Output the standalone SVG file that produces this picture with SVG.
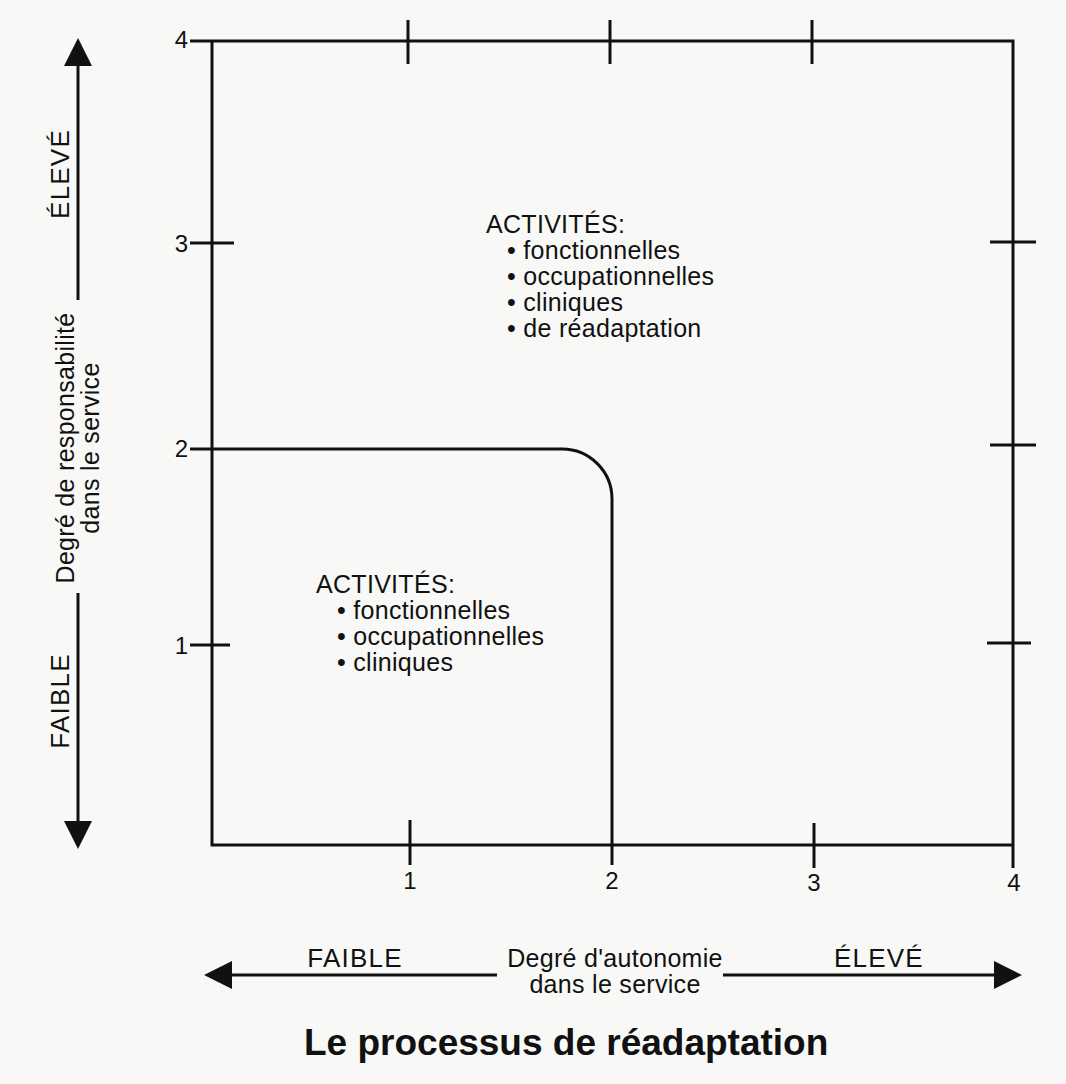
<svg xmlns="http://www.w3.org/2000/svg" width="1066" height="1084" viewBox="0 0 1066 1084">
  <style>
    .ln { stroke: #111; stroke-width: 3; fill: none; stroke-linecap: butt; }
    .t { font-family: "Liberation Sans", Arial, sans-serif; font-size: 25px; fill: #111; letter-spacing: 0.3px; }
    .num { font-family: "Liberation Sans", Arial, sans-serif; font-size: 24px; fill: #111; }
    .big { font-family: "Liberation Sans", Arial, sans-serif; font-size: 26px; fill: #111; letter-spacing: 1.2px; }
    .title { font-family: "Liberation Sans", Arial, sans-serif; font-size: 37px; font-weight: bold; fill: #111; }
  </style>
  <defs>
    <marker id="head" viewBox="0 0 28 28" markerUnits="userSpaceOnUse" markerWidth="28" markerHeight="28" refX="18" refY="14" orient="auto">
      <path d="M0,0 L28,14 L0,28 z" fill="#111"/>
    </marker>
  </defs>

  <rect width="1066" height="1084" fill="#f8f8f6"/>

  <!-- square chart frame with scale ticks -->
  <g id="frame">
    <path class="ln" d="M190,41 H1013 V868 M212,41 V845 H1013"/>
    <!-- top ticks -->
    <path class="ln" d="M408,20 V64 M610,20 V64 M812,20 V64"/>
    <!-- bottom ticks -->
    <path class="ln" d="M410,820 V865 M814,823 V868"/>
    <!-- left ticks -->
    <path class="ln" d="M190,243 H234 M190,645 H230"/>
    <!-- right ticks -->
    <path class="ln" d="M990,242 H1036 M990,445 H1036 M987,643 H1031"/>
  </g>

  <!-- scale numbers -->
  <g id="scale-left" class="num" text-anchor="end">
    <text x="188" y="48">4</text>
    <text x="188" y="252">3</text>
    <text x="188" y="457">2</text>
    <text x="188" y="654">1</text>
  </g>
  <g id="scale-bottom" class="num" text-anchor="middle">
    <text x="410" y="889">1</text>
    <text x="612" y="889">2</text>
    <text x="814" y="891">3</text>
    <text x="1014" y="891">4</text>
  </g>

  <!-- boundary between the two zones -->
  <g id="zone-boundary">
    <path class="ln" d="M190,449 H562 A50,50 0 0 1 612,499 V865"/>
  </g>

  <!-- upper zone activities -->
  <g id="zone-high" class="t">
    <text x="486" y="233">ACTIVITÉS:</text>
    <text x="507" y="259">• fonctionnelles</text>
    <text x="507" y="285">• occupationnelles</text>
    <text x="507" y="311">• cliniques</text>
    <text x="507" y="337">• de réadaptation</text>
  </g>

  <!-- lower zone activities -->
  <g id="zone-low" class="t">
    <text x="316" y="593">ACTIVITÉS:</text>
    <text x="337" y="619">• fonctionnelles</text>
    <text x="337" y="645">• occupationnelles</text>
    <text x="337" y="671">• cliniques</text>
  </g>

  <!-- vertical axis labels -->
  <g id="axis-y-labels">
    <text class="big" text-anchor="middle" transform="translate(69,174) rotate(-90)">ÉLEVÉ</text>
    <text class="big" text-anchor="middle" transform="translate(69,701) rotate(-90)">FAIBLE</text>
    <text class="t" text-anchor="middle" transform="translate(74,448) rotate(-90)">Degré de responsabilité</text>
    <text class="t" text-anchor="middle" transform="translate(99,448) rotate(-90)">dans le service</text>
  </g>

  <!-- horizontal axis labels -->
  <g id="axis-x-labels">
    <text class="big" x="355" y="967" text-anchor="middle">FAIBLE</text>
    <text class="big" x="879" y="967" text-anchor="middle">ÉLEVÉ</text>
    <text class="t" x="615" y="967" text-anchor="middle">Degré d'autonomie</text>
    <text class="t" x="615" y="993" text-anchor="middle">dans le service</text>
  </g>

  <!-- axis arrows -->
  <g id="connectors">
    <line class="ln" x1="78" y1="300" x2="78" y2="48" marker-end="url(#head)"/>
    <line class="ln" x1="78" y1="593" x2="78" y2="839" marker-end="url(#head)"/>
    <line class="ln" x1="497" y1="975" x2="214" y2="975" marker-end="url(#head)"/>
    <line class="ln" x1="723" y1="975" x2="1012" y2="975" marker-end="url(#head)"/>
  </g>

  <g id="title">
    <text class="title" x="304" y="1055">Le processus de réadaptation</text>
  </g>
</svg>
